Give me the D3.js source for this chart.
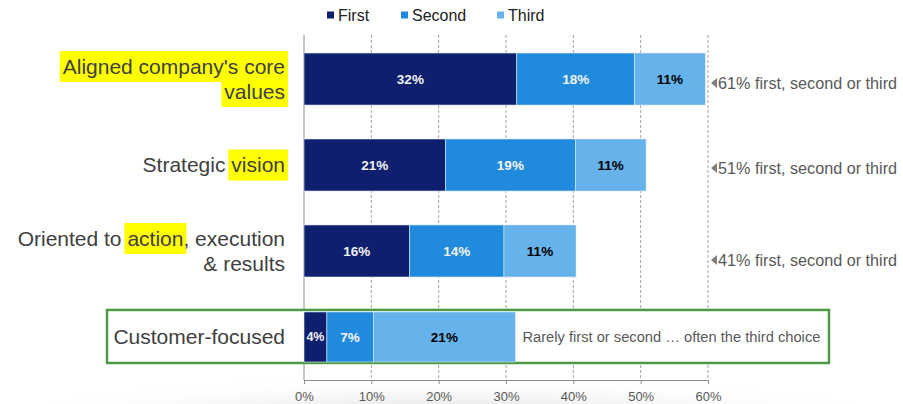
<!DOCTYPE html>
<html><head><meta charset="utf-8">
<script src="https://cdn.jsdelivr.net/npm/d3@7/dist/d3.min.js"></script>
<style>html,body{margin:0;padding:0;background:#fff;}svg{display:block;font-family:"Liberation Sans",Arial,sans-serif;}</style>
</head><body><svg id="c" width="903" height="404"></svg>
<script>
const categories = ["Aligned company's core values","Strategic vision","Oriented to action, execution & results","Customer-focused"];
const labelLines = [
  [[{t:"Aligned company's core",hl:true}],[{t:"values",hl:true}]],
  [[{t:"Strategic ",hl:false},{t:"vision",hl:true}]],
  [[{t:"Oriented to ",hl:false},{t:"action",hl:true},{t:", execution",hl:false}],[{t:"& results",hl:false}]],
  [[{t:"Customer-focused",hl:false}]]
];
const seriesNames = ["First","Second","Third"];
const first  = [31.6, 21.0, 15.7, 3.4];
const second = [17.5, 19.3, 14.0, 6.9];
const third  = [10.5, 10.5, 10.7, 21.1];
const valueLabels = [["32%","18%","11%"],["21%","19%","11%"],["16%","14%","11%"],["4%","7%","21%"]];
const totalNotes = ["61% first, second or third","51% first, second or third","41% first, second or third"];
const boxNote = "Rarely first or second \u2026 often the third choice";
const xTicks = [0,10,20,30,40,50,60];
const colors = ["#0E1F6E","#208BDC","#66B2EA"];

const svg = d3.select("#c");
const defs = svg.append("defs");
const rg = defs.append("radialGradient").attr("id","bg").attr("cx","50%").attr("cy","50%").attr("r","50%");
rg.append("stop").attr("offset","0%").attr("stop-color","#dedede");
rg.append("stop").attr("offset","60%").attr("stop-color","#eeeeee");
rg.append("stop").attr("offset","100%").attr("stop-color","#ffffff").attr("stop-opacity",0);
svg.append("ellipse").attr("cx",450).attr("cy",445).attr("rx",520).attr("ry",70).attr("fill","url(#bg)");

const x = d3.scaleLinear().domain([0,60]).range([304,708]);
const y = d3.scaleBand().domain(categories).range([36,380]).paddingInner(0.395).paddingOuter(0.198);
const bw = y.bandwidth();

// gridlines
svg.append("g").selectAll("line").data(xTicks.filter(d=>d>0)).join("line")
  .attr("x1",d=>x(d)).attr("x2",d=>x(d)).attr("y1",35).attr("y2",380)
  .attr("stroke","#8c8c8c").attr("stroke-width",0.8).attr("stroke-dasharray","3,2");

// x axis
const xAxis = d3.axisBottom(x).tickValues(xTicks).tickFormat(d=>d+"%").tickSize(4).tickSizeOuter(0);
const gx = svg.append("g").attr("transform","translate(0,380)").call(xAxis);
gx.select(".domain").attr("stroke","#8c8c8c");
gx.selectAll(".tick line").attr("stroke","#8c8c8c");
gx.selectAll(".tick text").attr("fill","#595959").attr("font-size",13).attr("font-family","Liberation Sans, Arial, sans-serif").attr("dy","1.1em");

// y axis line
svg.append("line").attr("x1",x(0)).attr("x2",x(0)).attr("y1",35).attr("y2",380).attr("stroke","#8c8c8c").attr("stroke-width",1);

// green box
svg.append("rect").attr("x",107).attr("y",y(categories[3])-1).attr("width",722).attr("height",bw+1)
  .attr("fill","#fff").attr("stroke","#4E9A44").attr("stroke-width",2.5);

// stacked bars
const stackData = categories.map((c,i)=>({cat:c,First:first[i],Second:second[i],Third:third[i],i}));
const stack = d3.stack().keys(seriesNames)(stackData);
const gBars = svg.append("g");
stack.forEach((layer,k)=>{
  gBars.selectAll(null).data(layer).join("rect")
    .attr("x",d=>x(d[0])).attr("y",d=>y(d.data.cat)+(d.data.i===3?1:0))
    .attr("width",d=>x(d[1])-x(d[0])).attr("height",d=>bw-(d.data.i===3?2:0))
    .attr("fill",colors[k]).attr("stroke","#dbe9f6").attr("stroke-width",0.6);
  gBars.selectAll(null).data(layer).join("text")
    .attr("x",d=>(x(d[0])+x(d[1]))/2).attr("y",d=>y(d.data.cat)+bw/2)
    .attr("dy","0.35em").attr("text-anchor","middle")
    .attr("font-size",d=>(x(d[1])-x(d[0]))<28?12.5:13.5).attr("font-weight","bold")
    .attr("fill",k===2?"#000":"#f2f2f2")
    .text(d=>valueLabels[d.data.i][k]);
});

// total notes
const noteOff = [4,3,9];
totalNotes.forEach((t,i)=>{
  const cy = y(categories[i])+bw/2+noteOff[i];
  svg.append("path").attr("d",`M${x(60)+3},${cy} L${x(60)+9},${cy-5} L${x(60)+9},${cy+5} Z`).attr("fill","#7f7f7f");
  svg.append("text").attr("x",x(60)+10).attr("y",cy).attr("dy","0.35em")
    .attr("font-size",16.2).attr("fill","#595959").text(t);
});

// box note
svg.append("text").attr("x",x(first[3]+second[3]+third[3])+7).attr("y",y(categories[3])+bw/2).attr("dy","0.35em")
  .attr("font-size",14.7).attr("fill","#595959").text(boxNote);

// category labels
const labelX = 285, lineH = 25;
labelLines.forEach((lines,i)=>{
  const cy = y(categories[i])+bw/2;
  const n = lines.length;
  lines.forEach((segs,j)=>{
    const ly = cy + (j-(n-1)/2)*lineH;
    const hlG = svg.append("g");
    const txt = svg.append("text").attr("x",labelX).attr("y",ly).attr("dy","0.35em")
      .attr("text-anchor","end").attr("font-size",21).attr("fill","#404040");
    segs.forEach(s=>txt.append("tspan").text(s.t));
    let charIdx = 0;
    segs.forEach(s=>{
      const node = txt.node();
      if(s.hl){
        const st = charIdx, len = s.t.length;
        const start = node.getStartPositionOfChar(st).x;
        const end = node.getEndPositionOfChar(st+len-1).x;
        hlG.append("rect").attr("x",start-3).attr("y",ly-15.5).attr("width",end-start+6).attr("height",31).attr("fill","#FFFF00");
      }
      charIdx += s.t.length;
    });
  });
});

// legend
const legX = [327,401,497];
seriesNames.forEach((s,k)=>{
  svg.append("rect").attr("x",legX[k]).attr("y",11.5).attr("width",7).attr("height",7).attr("fill",colors[k]);
  svg.append("text").attr("x",legX[k]+11).attr("y",15).attr("dy","0.35em").attr("font-size",16).attr("fill","#222").text(s);
});
</script></body></html>
